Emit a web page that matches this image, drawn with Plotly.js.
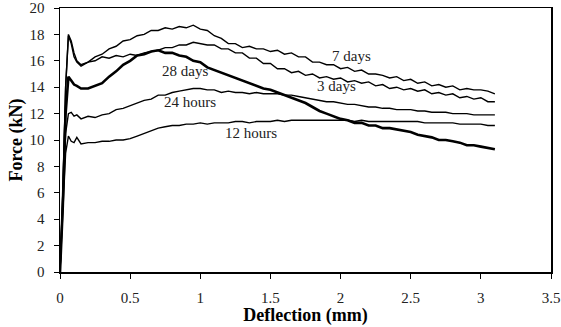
<!DOCTYPE html>
<html>
<head>
<meta charset="utf-8">
<script src="https://cdn.plot.ly/plotly-3.0.1.min.js"></script>
<style>html,body{margin:0;padding:0;background:#fff;}#chart{width:561px;height:327px;}</style>
</head>
<body>
<div id="chart"></div>
<script>
var deflection = [0,0.02,0.04,0.06,0.08,0.1,0.12,0.15,
 0.2,0.25,0.3,0.35,0.4,0.45,0.5,0.55,0.6,0.65,0.7,0.75,0.8,0.85,0.9,0.95,
 1.0,1.05,1.1,1.15,1.2,1.25,1.3,1.35,1.4,1.45,1.5,1.55,1.6,1.65,1.7,1.75,
 1.8,1.85,1.9,1.95,2.0,2.05,2.1,2.15,2.2,2.25,2.3,2.35,2.4,2.45,2.5,2.55,
 2.6,2.65,2.7,2.75,2.8,2.85,2.9,2.95,3.0,3.05,3.1];

var force7days = [0,6,14,18.0,17.5,16.6,16.0,15.7,
 15.9,16.3,16.5,16.9,17.1,17.5,17.6,17.9,18.0,18.3,18.3,18.5,18.4,18.6,18.5,18.7,
 18.4,18.3,17.9,17.7,17.3,17.3,17.0,17.1,16.9,16.9,16.7,16.8,16.5,16.6,16.3,16.3,
 15.9,15.9,15.7,15.7,15.4,15.5,15.2,15.3,15.0,15.0,14.9,14.7,14.8,14.5,14.6,14.3,
 14.4,14.1,14.2,14.0,14.1,13.8,13.9,13.8,13.8,13.7,13.5];

var force3days = [0,6,14,17.9,17.3,16.3,15.9,15.6,
 15.9,16.0,16.3,16.2,16.4,16.3,16.5,16.4,16.6,16.7,16.8,17.0,17.0,17.2,17.2,17.4,
 17.3,17.2,17.2,16.9,16.9,16.6,16.6,16.2,16.2,15.8,15.8,15.4,15.4,15.1,15.2,14.9,
 15.0,14.7,14.8,14.6,14.7,14.4,14.5,14.3,14.4,14.1,14.2,13.9,14.0,13.8,13.9,13.7,
 13.8,13.5,13.6,13.4,13.5,13.2,13.3,13.1,13.2,12.9,12.9];

var force28days = [0,5,12,14.8,14.5,14.2,14.1,13.9,
 13.9,14.1,14.3,14.8,15.2,15.7,16.0,16.4,16.5,16.7,16.8,16.6,16.6,16.4,16.3,16.0,
 15.9,15.5,15.3,15.1,14.9,14.7,14.5,14.3,14.1,13.9,13.8,13.6,13.4,13.2,13.0,12.8,
 12.5,12.2,12.0,11.8,11.6,11.5,11.3,11.3,11.1,11.1,10.9,10.9,10.8,10.7,10.6,10.4,
 10.3,10.2,10.0,10.0,9.9,9.8,9.6,9.6,9.5,9.4,9.3];

var force24hours = [0,5,10.5,12.0,12.1,11.8,11.9,11.6,
 11.8,11.7,11.9,12.0,12.3,12.4,12.6,12.8,13.0,13.1,13.4,13.4,13.6,13.7,13.8,13.9,
 13.9,13.8,13.8,13.6,13.7,13.6,13.6,13.5,13.6,13.5,13.5,13.5,13.4,13.4,13.3,13.2,
 13.1,13.0,12.9,12.9,12.8,12.7,12.7,12.6,12.5,12.5,12.4,12.4,12.3,12.3,12.3,12.2,
 12.2,12.1,12.1,12.1,12.0,12.0,12.0,11.9,11.9,11.9,11.9];

var force12hours = [0,4,9.0,10.3,9.9,9.8,10.2,9.7,
 9.8,9.8,9.9,9.9,10.0,10.0,10.1,10.3,10.5,10.7,10.9,11.0,11.1,11.1,11.2,11.2,
 11.3,11.2,11.3,11.3,11.3,11.4,11.4,11.3,11.4,11.4,11.4,11.5,11.4,11.5,11.5,11.5,
 11.5,11.5,11.5,11.5,11.5,11.5,11.4,11.5,11.4,11.4,11.4,11.4,11.4,11.4,11.4,11.4,
 11.3,11.3,11.3,11.3,11.3,11.2,11.2,11.2,11.2,11.1,11.1];

var seriesNames = ["12 hours","24 hours","3 days","7 days","28 days"];
var seriesValues = [force12hours, force24hours, force3days, force7days, force28days];
var labelX = [1.36, 0.93, 1.97, 2.08, 0.89];
var labelY = [10.55, 12.85, 14.1, 16.35, 15.2];
var xTicks = [0,0.5,1,1.5,2,2.5,3,3.5];
var xTickText = ["0","0.5","1","1.5","2","2.5","3","3.5"];
var yTicks = [0,2,4,6,8,10,12,14,16,18,20];

var FONT = '"Liberation Serif","Times New Roman",serif';

var traces = seriesNames.map(function(n, i){
  return {x: deflection, y: seriesValues[i], type: 'scatter', mode: 'lines', name: n,
    line: {color: '#000', width: n === '28 days' ? 2.6 : 1.4}};
});

var annotations = seriesNames.map(function(n, i){
  return {x: labelX[i], y: labelY[i], xref: 'x', yref: 'y', text: n, showarrow: false,
    xanchor: 'center', yanchor: 'middle', font: {family: FONT, size: 15, color: '#222'}};
});

var layout = {
  width: 561, height: 327,
  margin: {l: 60, r: 10, t: 8, b: 55},
  paper_bgcolor: '#fff', plot_bgcolor: '#fff',
  showlegend: false,
  font: {family: FONT, color: '#000'},
  xaxis: {range: [0, 3.5], tickvals: xTicks, ticktext: xTickText, showgrid: false, zeroline: false,
    showline: true, linecolor: '#000', linewidth: 1.5, mirror: true, ticks: 'outside', ticklen: 5,
    tickcolor: '#000', ticklabelstandoff: 6,
    tickfont: {family: FONT, size: 15, color: '#222'},
    title: {text: '<b>Deflection (mm)</b>', font: {family: FONT, size: 18, color: '#000'}, standoff: 0}},
  yaxis: {range: [0, 20], tickvals: yTicks, showgrid: false, zeroline: false,
    showline: true, linecolor: '#000', linewidth: 1.5, mirror: true, ticks: 'outside', ticklen: 5,
    tickcolor: '#000', ticklabelstandoff: 6,
    tickfont: {family: FONT, size: 15, color: '#222'},
    title: {text: '<b>Force (kN)</b>', font: {family: FONT, size: 18, color: '#000'}, standoff: 2}},
  annotations: annotations
};

Plotly.newPlot('chart', traces, layout, {displayModeBar: false, staticPlot: true});
</script>
</body>
</html>
